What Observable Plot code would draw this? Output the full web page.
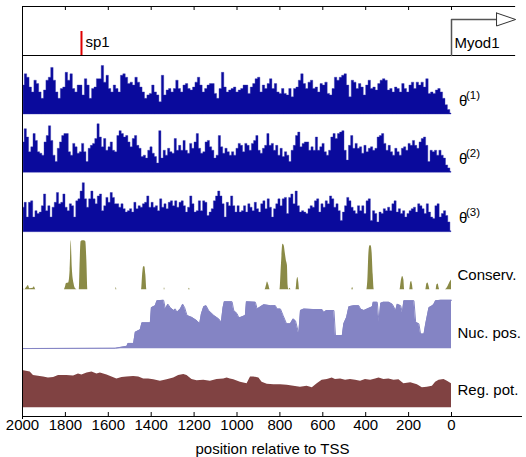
<!DOCTYPE html>
<html><head><meta charset="utf-8">
<script src="https://cdn.jsdelivr.net/npm/d3@7"></script>
<script src="https://cdn.jsdelivr.net/npm/@observablehq/plot@0.6"></script>
<style>html,body{margin:0;padding:0;background:#fff;overflow:hidden}</style>
</head><body><div id="chart"></div>
<script>
// ---------- data ----------
const positionTicks = [2000,1800,1600,1400,1200,1000,800,600,400,200,0];

const theta1 = [0.59,0.82,0.75,0.55,0.45,0.69,0.62,0.45,0.32,0.49,
0.69,0.75,0.95,0.69,0.45,0.32,0.52,0.55,0.85,0.69,
0.82,0.52,0.45,0.59,0.59,0.39,0.72,0.59,0.32,0.52,
0.55,0.72,0.72,0.99,0.65,0.79,0.52,0.45,0.59,0.52,
0.45,0.79,0.82,0.75,0.62,0.65,0.59,0.75,0.65,0.55,
0.45,0.32,0.39,0.42,0.59,0.45,0.39,0.25,0.79,0.39,
0.49,0.52,0.45,0.52,0.69,0.52,0.45,0.59,0.62,0.52,
0.49,0.55,0.65,0.75,0.59,0.45,0.52,0.59,0.62,0.62,
0.42,0.32,0.52,0.85,0.55,0.45,0.49,0.52,0.55,0.45,
0.49,0.52,0.59,0.59,0.42,0.55,0.62,0.72,0.75,0.45,
0.59,0.52,
0.62,0.72,0.52,0.62,0.45,0.42,0.52,0.42,0.39,0.52,
0.35,0.52,0.55,0.69,0.82,0.62,0.52,0.65,0.69,0.52,
0.55,0.45,0.62,0.59,0.65,0.42,0.39,0.52,0.75,0.69,
0.75,0.79,0.82,0.59,0.35,0.69,0.65,0.52,0.62,0.55,
0.39,0.59,0.69,0.52,0.55,0.49,0.62,0.69,0.72,0.69,
0.49,0.52,0.45,0.55,0.52,0.45,0.62,0.52,0.45,0.59,
0.65,0.52,0.65,0.59,0.65,0.55,0.72,0.42,0.45,0.42,
0.49,0.52,0.45,0.32,0.19,0.09,0.02];

const theta2 = [0.62,0.89,0.72,0.42,0.52,0.79,0.65,0.42,0.39,0.35,
0.62,0.75,0.95,0.65,0.35,0.22,0.49,0.62,0.75,0.79,
0.79,0.42,0.35,0.59,0.52,0.39,0.42,0.59,0.42,0.22,
0.49,0.55,0.59,0.69,0.99,0.72,0.52,0.69,0.45,0.52,
0.62,0.45,0.42,0.75,0.85,0.79,0.72,0.75,0.62,0.52,
0.69,0.75,0.55,0.49,0.32,0.35,0.29,0.45,0.52,0.39,
0.32,0.19,0.85,0.29,0.45,0.35,0.49,0.42,0.39,0.69,
0.45,0.55,0.45,0.65,0.45,0.39,0.59,0.49,0.62,0.79,
0.49,0.39,0.42,0.62,0.65,0.52,0.45,0.29,0.35,0.75,
0.52,0.39,0.49,0.42,0.35,0.42,0.35,0.49,0.59,0.55,
0.42,0.59,0.55,0.45,0.59,0.65,0.75,0.45,0.39,0.49,0.55,
0.79,0.55,0.59,0.45,0.55,0.35,0.49,0.32,0.42,0.35,
0.22,0.45,0.55,0.75,0.82,0.52,0.59,0.62,0.62,0.45,
0.52,0.45,0.72,0.45,0.52,0.59,0.42,0.35,0.45,0.72,
0.79,0.69,0.79,0.82,0.85,0.45,0.25,0.55,0.75,0.49,
0.59,0.49,0.52,0.39,0.55,0.42,0.49,0.52,0.45,0.49,
0.72,0.75,0.79,0.59,0.45,0.55,0.42,0.35,0.49,0.42,
0.35,0.49,0.52,0.45,0.59,0.55,0.65,0.55,0.49,0.62,
0.69,0.72,0.55,0.22,0.45,0.42,0.45,0.35,0.45,0.35,
0.29,0.15,0.09,0.02];

const theta3 = [0.50,0.60,0.30,0.60,0.63,0.30,0.43,0.37,0.40,0.53,
0.77,0.43,0.53,0.30,0.50,0.60,0.80,0.57,0.60,0.77,
0.50,0.43,0.57,0.53,0.30,0.63,0.67,0.83,1.00,0.67,
0.50,0.67,0.83,0.67,0.57,0.73,0.77,0.43,0.53,0.70,
0.60,0.80,0.70,0.57,0.57,0.50,0.57,0.47,0.40,0.43,
0.47,0.40,0.60,0.47,0.53,0.50,0.57,0.60,0.73,0.50,
0.60,0.50,0.53,0.43,0.67,0.50,0.57,0.47,0.60,0.63,
0.53,0.63,0.50,0.60,0.63,0.53,0.40,0.50,0.73,0.57,
0.40,0.43,0.63,0.43,0.63,0.60,0.33,0.40,0.47,0.63,
0.73,0.83,0.73,0.57,0.30,0.60,0.53,0.73,0.53,0.40,
0.53,0.40,0.43,0.53,0.40,0.57,0.50,0.43,0.60,0.47,
0.40,0.57,0.63,0.47,0.67,
0.50,0.30,0.47,0.57,0.67,0.53,0.67,0.70,0.37,0.70,
0.77,0.57,0.83,0.53,0.40,0.43,0.40,0.37,0.47,0.53,
0.50,0.63,0.67,0.40,0.57,0.50,0.63,0.57,0.73,0.67,
0.50,0.57,0.43,0.23,0.40,0.53,0.70,0.63,0.50,0.43,
0.37,0.53,0.43,0.53,0.37,0.63,0.67,0.23,0.43,0.37,
0.20,0.40,0.37,0.47,0.43,0.50,0.43,0.57,0.63,0.40,
0.47,0.37,0.43,0.30,0.37,0.43,0.47,0.50,0.40,0.57,
0.53,0.47,0.37,0.57,0.40,0.30,0.27,0.53,0.57,0.30,
0.37,0.43,0.33,0.20,0.02];

const conservPos = [2000,1990,1980,1973,1965,1950,1945,1938,1805,1800,1795,1785,1778,1773,1768,1760,1752,1745,
1735,1731,1727,1720,1712,1705,1700,1695,1565,1563,1560,1445,1440,1435,1430,1425,1420,1340,1338,1335,
1226,1222,1218,870,862,858,852,845,800,793,786,780,775,770,765,762,758,753,748,725,720,716,712,708,
465,461,457,395,390,385,380,375,370,365,360,240,235,228,222,218,195,190,186,182,178,
120,115,110,105,100,72,68,62,58,55,30,15,5,0];
const conservVal = [0.05,0,0.05,0.09,0.02,0.03,0.06,0,0,0.05,0.13,0.14,0.4,1.0,0.45,0.13,0.02,0,
0,0.6,0.98,1.0,1.0,0.98,0.6,0,0,0.05,0,0,0.3,0.47,0.47,0.3,0,0,0.04,0,
0,0.03,0,0,0.1,0.16,0.1,0,0,0.5,0.93,0.9,0.75,0.6,0.5,0.1,0,0.03,0,0,0.2,0.25,0.15,0,
0,0.05,0,0,0.2,0.75,0.9,0.9,0.75,0.3,0,0,0.15,0.27,0.2,0,0,0.15,0.17,0.1,0,
0,0.12,0.14,0.08,0,0,0.1,0.12,0.04,0,0,0.08,0.17,0.2];

const nucPos = [2000,1567,1513,1508,1482,1474,1451,1443,1404,1399,1381,1373,1342,1334,1322,1311,1295,1287,1280,1264,
1253,1244,1233,1210,1186,1174,1166,1155,1144,1132,1108,1085,1073,1065,1059,1023,1015,1000,992,984,
961,956,914,906,875,844,821,813,797,785,769,751,738,727,712,704,688,642,603,595,
583,548,541,509,502,489,478,455,432,424,408,393,369,365,346,338,330,318,292,276,
260,253,237,229,222,175,167,152,144,128,120,105,89,82,74,50,0];
const nucVal = [0.005,0.01,0.05,0.11,0.11,0.34,0.39,0.53,0.53,0.84,0.88,0.98,0.99,0.81,0.91,0.84,0.78,0.81,0.74,0.81,
0.91,0.84,0.68,0.64,0.57,0.51,0.71,0.86,0.88,0.78,0.68,0.61,0.54,0.84,0.96,0.96,0.78,0.72,0.64,0.64,
0.68,0.96,0.95,0.81,0.90,0.88,0.88,0.81,0.81,0.68,0.51,0.51,0.61,0.57,0.30,0.78,0.81,0.80,0.80,0.74,
0.78,0.78,0.27,0.27,0.51,0.64,0.86,0.88,0.88,0.81,0.78,0.81,0.86,0.95,0.95,0.54,0.93,0.95,0.95,0.91,
0.78,0.91,0.88,0.74,0.98,0.98,0.54,0.51,0.30,0.30,0.51,0.84,0.88,0.91,0.98,0.99,0.99];

const regPos = [2000,1964,1949,1902,1879,1855,1832,1793,1762,1739,1723,1699,1676,1653,1637,1606,1583,1560,1536,1513,
1482,1458,1435,1412,1388,1357,1326,1295,1272,1248,1233,1210,1186,1155,1124,1093,1062,1046,1031,1015,
984,953,937,922,898,883,859,828,797,766,735,704,673,649,626,603,579,556,541,517,
494,471,447,424,401,377,354,338,315,292,268,245,222,190,159,136,113,89,74,58,35,19,0];
const regVal = [0.76,0.73,0.66,0.63,0.61,0.62,0.66,0.66,0.65,0.69,0.67,0.71,0.73,0.69,0.71,0.67,0.63,0.59,0.62,0.63,
0.64,0.63,0.59,0.59,0.57,0.54,0.57,0.61,0.66,0.68,0.66,0.58,0.55,0.56,0.54,0.58,0.59,0.61,0.59,0.57,
0.52,0.49,0.63,0.63,0.61,0.52,0.48,0.47,0.47,0.46,0.44,0.42,0.44,0.41,0.49,0.56,0.58,0.61,0.58,0.59,
0.56,0.58,0.56,0.54,0.58,0.56,0.59,0.61,0.58,0.59,0.56,0.57,0.49,0.51,0.47,0.41,0.42,0.44,0.52,0.56,0.58,0.54,0.49];

const sp1Position = 1725;
const tssPosition = 0;
const trackLabels = ["Conserv.", "Nuc. pos.", "Reg. pot."];
const thetaSuperscripts = ["(1)", "(2)", "(3)"];

// ---------- layout (y in track units, 1 unit ≈ 1px above the x axis line) ----------
const X_START = 2000, X_END = -331, X_FRAME = -299;
const Y_TOP = 410, Y_SEP = 361, UNIT = 49;
const base = {t1: 302, t2: 243.7, t3: 184.3, cons: 126.7, nuc: 67.7, reg: 8.7};
const FONT = "'Liberation Sans', Arial, Helvetica, sans-serif";

const evenly = (vals) => vals.map((v, i) => ({x: 1995 - 1995 * i / (vals.length - 1), v}));
const paired = (pos, vals) => pos.map((p, i) => ({x: p, v: vals[i]}));

function track(data, b, fill, curve = "linear", extra = {}) {
  return Plot.areaY(data, {x: "x", y1: () => b, y2: d => b + d.v * UNIT, fill, curve, ...extra});
}

const blue = "#0a0a9c", olive = "#8a8a46", lav = "#8484c4", brown = "#804242";

const thetaBases = [base.t1, base.t2, base.t3];
const thetaLabelY = [315, 257, 198];

const chart = Plot.plot({
  width: 526, height: 457,
  marginLeft: 22, marginRight: 4, marginTop: 6, marginBottom: 41,
  x: {domain: [X_START, X_END], axis: null},
  y: {domain: [0, Y_TOP], axis: null},
  style: {fontFamily: FONT, fontSize: "15px", background: "white", color: "black"},
  marks: [
    track(evenly(theta1), base.t1, blue, "step", {stroke: "#3434b0", strokeWidth: 0.4}),
    track(evenly(theta2), base.t2, blue, "step", {stroke: "#3434b0", strokeWidth: 0.4}),
    track(evenly(theta3), base.t3, blue, "step", {stroke: "#3434b0", strokeWidth: 0.4}),
    track(paired(conservPos, conservVal), base.cons, olive, "monotone-x"),
    track(paired(nucPos, nucVal), base.nuc, lav),
    Plot.line(paired(nucPos, nucVal), {x: "x", y: d => base.nuc + d.v * UNIT, stroke: lav, strokeWidth: 1}),
    track(paired(regPos, regVal), base.reg, brown),
    // frame
    Plot.ruleY([Y_TOP, Y_SEP], {y: d => d, x1: () => X_START, x2: () => X_FRAME, stroke: "black"}),
    Plot.ruleY([0], {y: d => d, x1: () => X_START, x2: () => X_END, stroke: "black"}),
    Plot.ruleX([X_START], {x: d => d, y1: () => -3, y2: () => Y_TOP, stroke: "black"}),
    Plot.ruleX(positionTicks, {x: d => d, y1: () => 0, y2: () => 4, stroke: "black"}),
    Plot.ruleX(positionTicks, {x: d => d, y1: () => Y_TOP - 4, y2: () => Y_TOP, stroke: "black"}),
    // sp1 site
    Plot.ruleX([sp1Position], {x: d => d, y1: () => Y_SEP, y2: () => 385, stroke: "#e00000", strokeWidth: 2}),
    Plot.text(["sp1"], {x: () => sp1Position, y: () => 374, dx: 4, text: d => d, textAnchor: "start", fontSize: 15}),
    // Myod1 TSS arrow
    Plot.line([{x: tssPosition, y: Y_SEP}, {x: tssPosition, y: 397}, {x: tssPosition - 210, y: 397}],
      {x: "x", y: "y", stroke: "#555", strokeWidth: 1.5}),
    Plot.line([{x: -210, y: 403.5}, {x: X_FRAME, y: 397}, {x: -210, y: 390.5}, {x: -210, y: 403.5}],
      {x: "x", y: "y", stroke: "#333", fill: "white", strokeWidth: 1}),
    Plot.text(["Myod1"], {x: () => tssPosition, y: () => 373, dx: 3, text: d => d, textAnchor: "start", fontSize: 15}),
    // track labels
    Plot.text(thetaBases, {x: () => 0, y: (d, i) => thetaLabelY[i], dx: 7.5, text: () => "θ", textAnchor: "start", fontSize: 15}),
    Plot.text(thetaSuperscripts, {x: () => 0, y: (d, i) => thetaLabelY[i] + 6, dx: 14.5, text: d => d, textAnchor: "start", fontSize: 11.5}),
    Plot.text(trackLabels, {x: () => 0, y: (d, i) => [141, 83, 26][i], dx: 6, text: d => d, textAnchor: "start", fontSize: 15}),
    // x axis labels
    Plot.text(positionTicks, {x: d => d, y: () => -9, text: d => String(d), fontSize: 15}),
    Plot.text(["position relative to TSS"], {x: () => (X_START + X_END) / 2, y: () => -33, text: d => d, fontSize: 15})
  ]
});
document.getElementById("chart").appendChild(chart);
</script>
</body></html>
